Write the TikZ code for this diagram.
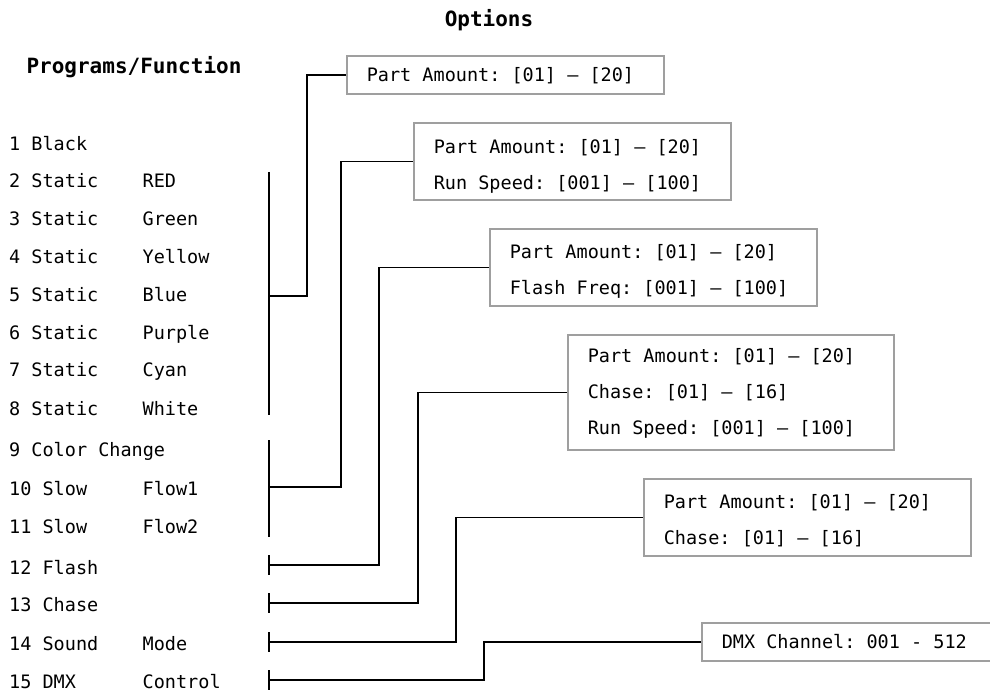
\documentclass[tikz,border=0pt]{standalone}
\usepackage{fontspec}
\setmainfont{DejaVu Sans Mono}
\usetikzlibrary{positioning}
\frenchspacing

\newcommand{\prog}[2]{\makebox[133.5pt][l]{#1}#2}

\begin{document}
\begin{tikzpicture}[x=1pt,y=-1pt,font=\fontsize{18.5}{36}\selectfont,
  item/.style={anchor=base west,inner sep=0pt},
  title/.style={font=\fontsize{21}{25}\selectfont\bfseries,inner sep=0pt},
  optbox/.style={draw=gray!75,line width=1.6pt,anchor=west,align=left,inner xsep=20pt,inner ysep=0pt,
    text height=14pt,execute at begin node={\spaceskip=0pt\xspaceskip=0pt}},
  link/.style={line width=1.6pt},
  bar/.style={line width=2pt}]
\useasboundingbox (0,0) rectangle (990,692);
\clip (0,0) rectangle (990,692);
\node[title] (topt) at (489,20) {Options};
\node[title] (tprog) at (134,67) {Programs/Function};
% program list
\node[item] (p1) at (9,151) {1 Black};
\node[item] (p2) at (9,188) {\prog{2 Static}{RED}};
\node[item] (p3) at (9,226) {\prog{3 Static}{Green}};
\node[item] (p4) at (9,264) {\prog{4 Static}{Yellow}};
\node[item] (p5) at (9,302) {\prog{5 Static}{Blue}};
\node[item] (p6) at (9,340) {\prog{6 Static}{Purple}};
\node[item] (p7) at (9,377) {\prog{7 Static}{Cyan}};
\node[item] (p8) at (9,415) {\prog{8 Static}{White}};
\node[item] (p9) at (9,456) {9 Color Change};
\node[item] (p10) at (9,495) {\prog{10 Slow}{Flow1}};
\node[item] (p11) at (9,533) {\prog{11 Slow}{Flow2}};
\node[item] (p12) at (9,574) {12 Flash};
\node[item] (p13) at (9,611) {13 Chase};
\node[item] (p14) at (9,650) {\prog{14 Sound}{Mode}};
\node[item] (p15) at (9,688) {\prog{15 DMX}{Control}};
% option boxes
\node[optbox,text width=277pt,minimum height=38pt,text depth=0.5pt] (o1) at (346,75) {Part Amount: [01] – [20]};
\node[optbox,text width=277pt,minimum height=77pt,text depth=30pt] (o2) at (413,161.5) {Part Amount: [01] – [20]\\Run Speed: [001] – [100]};
\node[optbox,text width=287pt,minimum height=77pt,text depth=31.5pt] (o3) at (489,267.5) {Part Amount: [01] – [20]\\Flash Freq: [001] – [100]};
\node[optbox,text width=286pt,minimum height=115pt,text depth=73.5pt] (o4) at (567,392.5) {Part Amount: [01] – [20]\\Chase: [01] – [16]\\Run Speed: [001] – [100]};
\node[optbox,text width=287pt,minimum height=77pt,text depth=31.5pt] (o5) at (643,517.5) {Part Amount: [01] – [20]\\Chase: [01] – [16]};
\node[optbox,text width=287pt,minimum height=38pt,text depth=0.5pt] (o6) at (701,642) {DMX Channel: 001 - 512};
% brackets and links
\coordinate (b1s) at (269,172); \coordinate (b1e) at (269,415); \coordinate (j1) at (269,296);
\coordinate (b2s) at (269,440); \coordinate (b2e) at (269,537); \coordinate (j2) at (269,487);
\coordinate (b3s) at (269,555); \coordinate (b3e) at (269,575); \coordinate (j3) at (269,565);
\coordinate (b4s) at (269,593); \coordinate (b4e) at (269,613); \coordinate (j4) at (269,603);
\coordinate (b5s) at (269,632); \coordinate (b5e) at (269,652); \coordinate (j5) at (269,642);
\coordinate (b6s) at (269,670); \coordinate (b6e) at (269,690); \coordinate (j6) at (269,680);
\draw[bar] (b1s) -- (b1e); \draw[bar] (b2s) -- (b2e); \draw[bar] (b3s) -- (b3e);
\draw[bar] (b4s) -- (b4e); \draw[bar] (b5s) -- (b5e); \draw[bar] (b6s) -- (b6e);
\draw[link] (j1) -- ++(38,0) |- (o1.west);
\draw[link] (j2) -- ++(72,0) |- (o2.west);
\draw[link] (j3) -- ++(110,0) |- (o3.west);
\draw[link] (j4) -- ++(149,0) |- (o4.west);
\draw[link] (j5) -- ++(187,0) |- (o5.west);
\draw[link] (j6) -- ++(215,0) |- (o6.west);
\end{tikzpicture}
\end{document}
